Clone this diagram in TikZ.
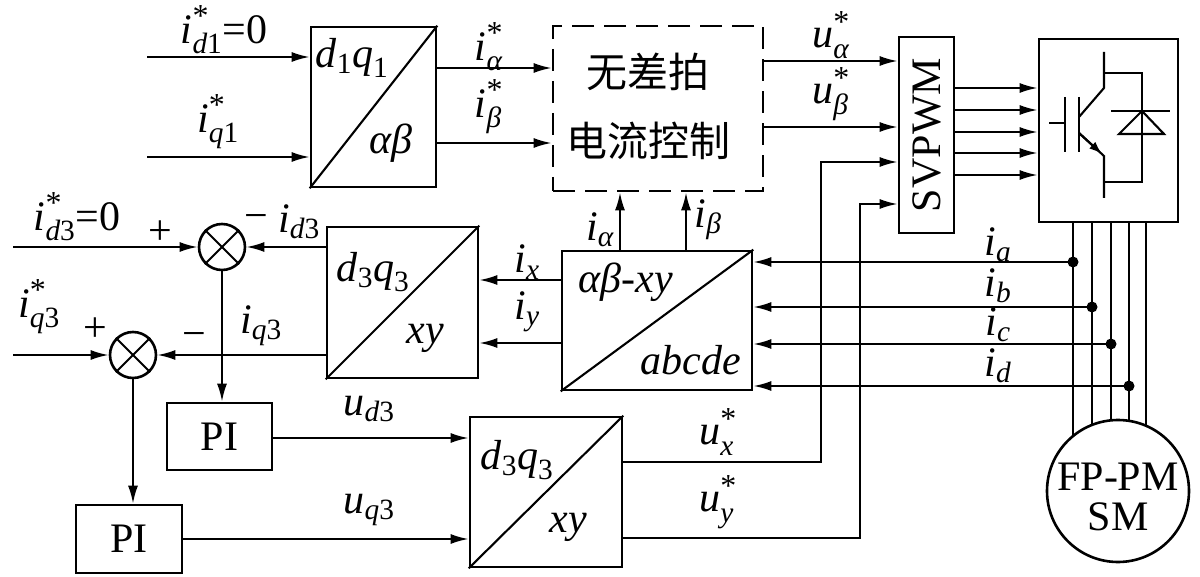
\documentclass[tikz,border=0pt]{standalone}
\usepackage{fix-cm}
\usepackage{amsmath}
\usepackage{fontspec}
\setmainfont{Liberation Serif}
\newfontfamily\cjk{Noto Sans CJK SC}
\usetikzlibrary{arrows.meta,calc}
\newcommand{\mi}[1]{\textit{#1}}
\newcommand{\st}{\text{\fontsize{32}{32}\selectfont *}}
\begin{document}
\begin{tikzpicture}[x=1pt,y=-1pt,
  blk/.style={draw,line width=2.6pt,inner sep=0pt},
  ln/.style={line width=2.1pt},
  arr/.style={ln,-{Latex[length=18pt,width=10pt]}},
  lbl/.style={font=\fontsize{42}{46}\selectfont,inner sep=0pt},
  cjkl/.style={font=\cjk\fontsize{41}{46}\selectfont,inner sep=0pt}]
\useasboundingbox (0,0) rectangle (1200,577);

% ---- blocks
\node[blk,minimum width=125pt,minimum height=160pt] (T1) at (373.5,107) {};
\node[blk,dash pattern=on 22pt off 10pt,minimum width=210pt,minimum height=165pt] (DB) at (658,108.5) {};
\node[blk,minimum width=55pt,minimum height=196pt] (SV) at (926.5,135) {};
\node[blk,minimum width=139pt,minimum height=183pt] (INV) at (1108.5,130.5) {};
\node[blk,minimum width=190pt,minimum height=139pt] (T2) at (657,320.5) {};
\node[blk,minimum width=151pt,minimum height=151pt] (T3) at (402.5,302.5) {};
\node[blk,minimum width=152pt,minimum height=150pt] (T4) at (546,492) {};
\node[blk,minimum width=105pt,minimum height=67pt] (PI1) at (219.5,436.5) {};
\node[blk,minimum width=106pt,minimum height=68pt] (PI2) at (129,539) {};
\node[blk,circle,minimum size=46pt] (S1) at (222,247) {};
\node[blk,circle,minimum size=46pt] (S2) at (133,355) {};

% diagonals
\foreach \b in {T1,T2,T3,T4} \draw[ln] (\b.south west) -- (\b.north east);
\foreach \s in {S1,S2} {
  \draw[ln] (\s.north west) -- (\s.south east);
  \draw[ln] (\s.north east) -- (\s.south west);
}

% ---- texts in blocks
\node[lbl] (t1a) at (352,58) {$\mi{d}_{\text{1}}\mi{q}_{\text{1}}$};
\node[lbl] (t1b) at (391,143) {\mi{αβ}};
\node[cjkl] (c1) at (648,72) {无差拍};
\node[cjkl] (c2) at (648,141) {电流控制};
\node[lbl,rotate=90] (svt) at (SV) {SVPWM};
\node[lbl] (t3a) at (373,272) {$\mi{d}_{\text{3}}\mi{q}_{\text{3}}$};
\node[lbl] (t3b) at (425,338) {\mi{xy}};
\node[lbl] (t2a) at (626,282) {\mi{αβ}-\mi{xy}};
\node[lbl] (t2b) at (691,360) {\mi{abcde}};
\node[lbl] (t4a) at (517,460) {$\mi{d}_{\text{3}}\mi{q}_{\text{3}}$};
\node[lbl] (t4b) at (568,527) {\mi{xy}};
\node[lbl] (p1) at (PI1) {PI};
\node[lbl] (p2) at (PI2) {PI};

% ---- IGBT symbol
\draw[ln] (1104,52) -- (1104,88) -- (1079,117);
\draw[ln] (1079,97) -- (1079,152);
\draw[ln] (1065,97) -- (1065,152);
\draw[ln] (1049,123) -- (1065,123);
\draw[ln] (1079,133) -- (1104,156) -- (1104,198);
\draw[ln,-{Latex[length=13pt,width=9pt]}] (1079,133) -- (1102,154);
\draw[ln] (1104,73) -- (1142,73) -- (1142,182) -- (1104,182);
\draw[ln] (1111,111) -- (1170,111);
\draw[ln,line join=miter] (1142,111) -- (1119,134) -- (1164,134) -- cycle;

% ---- top path
\coordinate (a1) at (147,57);
\coordinate (a2) at (147,157);
\draw[arr] (a1) -- (a1 -| T1.west);
\draw[arr] (a2) -- (a2 -| T1.west);
\draw[arr] (T1.east |- 0,68) -- (DB.west |- 0,68);
\draw[arr] (T1.east |- 0,143) -- (DB.west |- 0,143);
\draw[arr] (DB.east |- 0,61) -- (SV.west |- 0,61);
\draw[arr] (DB.east |- 0,127) -- (SV.west |- 0,127);
\foreach \y in {88,110,132,153,175} \draw[arr] (SV.east |- 0,\y) -- (INV.west |- 0,\y);
\draw[arr] (T2.north -| 620,0) -- (DB.south -| 620,0);
\draw[arr] (T2.north -| 686,0) -- (DB.south -| 686,0);

% ---- xy path
\draw[arr] (T2.west |- 0,280) -- (T3.east |- 0,280);
\draw[arr] (T2.west |- 0,343) -- (T3.east |- 0,343);
\coordinate (a3) at (13,247);
\coordinate (a4) at (13,355);
\draw[arr] (a3) -- (S1.west);
\draw[arr] (a4) -- (S2.west);
\draw[arr] (T3.west |- S1) -- (S1.east);
\draw[arr] (T3.west |- S2) -- (S2.east);
\draw[arr] (S1.south) -- (S1.south |- PI1.north);
\draw[arr] (S2.south) -- (S2.south |- PI2.north);
\draw[arr] (PI1.east |- 0,438) -- (T4.west |- 0,438);
\draw[arr] (PI2.east |- 0,539) -- (T4.west |- 0,539);
\coordinate (ux1) at (821,462);
\coordinate (ux2) at (821,162);
\coordinate (uy1) at (860,538);
\coordinate (uy2) at (860,204);
\draw[arr] (T4.east |- ux1) -- (ux1) -- (ux2) -- (ux2 -| SV.west);
\draw[arr] (T4.east |- uy1) -- (uy1) -- (uy2) -- (uy2 -| SV.west);

% ---- motor and current sensing
\foreach \x in {1073,1092,1111,1129,1146} \draw[ln] (INV.south -| \x,0) -- (\x,491);
\node[blk,circle,fill=white,minimum size=142pt] (M) at (1118,491) {};
\node[lbl,align=center,font=\fontsize{42}{40}\selectfont] (mt) at (1118,497) {FP-PM\\SM};
\coordinate (da) at (1073,262);
\coordinate (db) at (1092,307);
\coordinate (dc) at (1111,344);
\coordinate (dd) at (1129,386);
\foreach \d in {da,db,dc,dd} {
  \fill (\d) circle (5.5pt);
  \draw[arr] (\d) -- (\d -| T2.east);
}

% ---- signal labels
\node[lbl] (l1) at (224,30) {$\mi{i}^{\st}_{\mi{d}\text{1}}\text{=0}$};
\node[lbl] (l2) at (218,122) {$\mi{i}^{\st}_{\mi{q}\text{1}}$};
\node[lbl] (l3) at (489,47) {$\mi{i}^{\st}_{\mi{α}}$};
\node[lbl] (l4) at (489,107) {$\mi{i}^{\st}_{\mi{β}}$};
\node[lbl] (l5) at (831,35) {$\mi{u}^{\st}_{\mi{α}}$};
\node[lbl] (l6) at (831,94) {$\mi{u}^{\st}_{\mi{β}}$};
\node[lbl] (l7) at (600,230) {$\mi{i}_{\mi{α}}$};
\node[lbl] (l8) at (708,220) {$\mi{i}_{\mi{β}}$};
\node[lbl] (l9) at (77,217) {$\mi{i}^{\st}_{\mi{d}\text{3}}\text{=0}$};
\node[lbl] (p3) at (160,233) {+};
\node[lbl] (m3) at (256,222) {−};
\node[lbl] (l10) at (299,222) {$\mi{i}_{\mi{d}\text{3}}$};
\node[lbl] (l11) at (39,307) {$\mi{i}^{\st}_{\mi{q}\text{3}}$};
\node[lbl] (p4) at (95,330) {+};
\node[lbl] (m4) at (194,340) {−};
\node[lbl] (l12) at (261,326) {$\mi{i}_{\mi{q}\text{3}}$};
\node[lbl] (l13) at (527,262) {$\mi{i}_{\mi{x}}$};
\node[lbl] (l14) at (527,312) {$\mi{i}_{\mi{y}}$};
\node[lbl] (l15) at (998,245) {$\mi{i}_{\mi{a}}$};
\node[lbl] (l16) at (998,286) {$\mi{i}_{\mi{b}}$};
\node[lbl] (l17) at (998,325) {$\mi{i}_{\mi{c}}$};
\node[lbl] (l18) at (998,366) {$\mi{i}_{\mi{d}}$};
\node[lbl] (l19) at (369,409) {$\mi{u}_{\mi{d}\text{3}}$};
\node[lbl] (l20) at (369,510) {$\mi{u}_{\mi{q}\text{3}}$};
\node[lbl] (l21) at (718,432) {$\mi{u}^{\st}_{\mi{x}}$};
\node[lbl] (l22) at (718,502) {$\mi{u}^{\st}_{\mi{y}}$};
\end{tikzpicture}
\end{document}
